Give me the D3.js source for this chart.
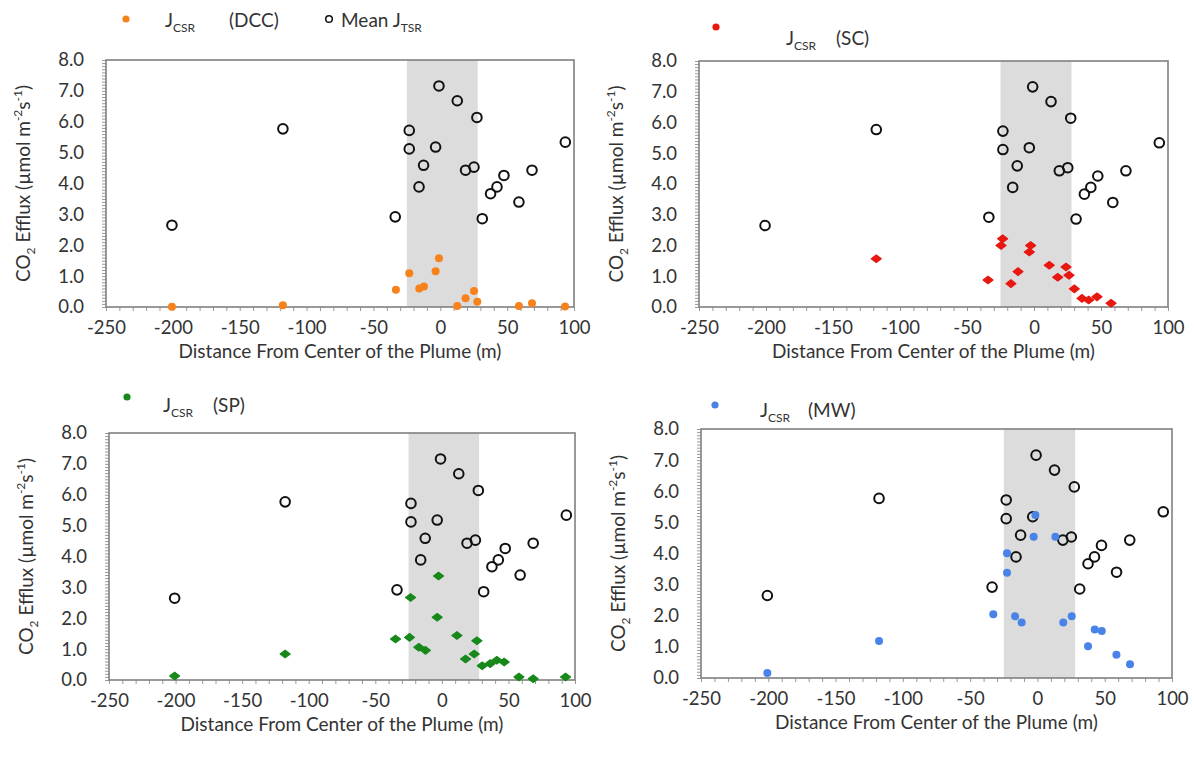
<!DOCTYPE html>
<html>
<head>
<meta charset="utf-8">
<script src="https://cdn.jsdelivr.net/npm/d3@7"></script>
<style>
  html, body { margin: 0; padding: 0; background: #fff; }
  svg { display: block; font-family: Lato, "Noto Sans", sans-serif; }
</style>
</head>
<body>
<svg id="chart" width="1194" height="762"></svg>
<script>
// Mean total soil respiration (J_TSR) at each station, shared by all four panels
const tsrDistance = [-200.7, -117.7, -33.7, -23.2, -23.2, -15.9, -12.5, -3.5, -1.0, 12.7,
                     18.9, 25.2, 27.4, 31.4, 37.6, 42.4, 47.6, 58.8, 68.6, 93.5];
const tsrFlux     = [2.65, 5.77, 2.92, 5.72, 5.12, 3.89, 4.59, 5.18, 7.16, 6.68,
                     4.43, 4.53, 6.14, 2.86, 3.67, 3.89, 4.26, 3.40, 4.43, 5.34];

// Carbon-source respiration (J_CSR) estimated by each method
const dccDistance = [-200.7, -117.7, -33.2, -23.2, -15.7, -12.2, -3.5, -1.0, 12.7, 18.9,
                     25.2, 27.7, 58.8, 68.6, 93.3];
const dccFlux     = [0.01, 0.06, 0.56, 1.09, 0.60, 0.66, 1.16, 1.58, 0.03, 0.28,
                     0.52, 0.17, 0.03, 0.12, 0.02];

const scDistance  = [-117.7, -34.3, -24.6, -23.4, -17.2, -11.9, -3.5, -2.5, 11.4, 17.7,
                     23.9, 26.1, 30.1, 35.8, 40.8, 47.0, 57.5];
const scFlux      = [1.57, 0.88, 2.00, 2.22, 0.76, 1.15, 1.79, 2.00, 1.36, 0.97,
                     1.30, 1.03, 0.59, 0.28, 0.23, 0.33, 0.12];

const spDistance  = [-200.7, -117.7, -34.8, -24.3, -23.5, -17.3, -12.3, -3.5, -2.5, 11.3,
                     17.8, 24.3, 26.3, 30.3, 36.3, 41.3, 46.8, 57.9, 68.6, 92.9];
const spFlux      = [0.13, 0.84, 1.33, 1.38, 2.67, 1.06, 0.96, 2.03, 3.37, 1.44,
                     0.68, 0.84, 1.27, 0.46, 0.53, 0.64, 0.58, 0.10, 0.04, 0.10];

const mwDistance  = [-200.7, -117.7, -32.8, -22.6, -22.6, -16.6, -11.7, -2.8, -1.5, 13.3,
                     19.2, 25.5, 37.6, 42.6, 47.8, 58.7, 68.8];
const mwFlux      = [0.16, 1.19, 2.05, 4.01, 3.38, 1.98, 1.78, 4.54, 5.24, 4.54,
                     1.78, 1.98, 1.02, 1.56, 1.51, 0.75, 0.44];

// Extent of the plume core (shaded band), in metres
const plumeBand = [-25, 28];

// Axis ticks
const xTickValues = [-250, -200, -150, -100, -50, 0, 50, 100];
const yTickValues = [0, 1, 2, 3, 4, 5, 6, 7, 8];

const xTitle = "Distance From Center of the Plume (m)";

const svg = d3.select("#chart");

function toPoints(xs, ys) { return xs.map((x, i) => ({ x, y: ys[i] })); }

const panels = [
  { box: { l: 106, r: 574, t: 60, b: 307 }, csr: toPoints(dccDistance, dccFlux), color: "#f7821b", shape: "dot" },
  { box: { l: 699, r: 1168, t: 61, b: 307 }, csr: toPoints(scDistance, scFlux), color: "#e8170f", shape: "diamond" },
  { box: { l: 109, r: 575, t: 433, b: 680 }, csr: toPoints(spDistance, spFlux), color: "#17891a", shape: "diamond" },
  { box: { l: 701, r: 1172, t: 429, b: 678 }, csr: toPoints(mwDistance, mwFlux), color: "#4a83e8", shape: "dot" }
];

const tsr = toPoints(tsrDistance, tsrFlux);
const textColor = "#333";
const frameColor = "#808080";
const mainSize = "19px";
const tickSize = "18.5px";
const subSize = "12px";

function drawPanel(p) {
  const x = d3.scaleLinear().domain([-250, 100]).range([p.box.l, p.box.r]);
  const y = d3.scaleLinear().domain([0, 8]).range([p.box.b, p.box.t]);
  const g = svg.append("g");

  // plume core band
  g.append("rect")
    .attr("x", x(plumeBand[0])).attr("y", y(8))
    .attr("width", x(plumeBand[1]) - x(plumeBand[0]))
    .attr("height", y(0) - y(8))
    .attr("fill", "#dcdcdc");

  // minor ticks
  const xMinor = g.append("g").attr("transform", `translate(0,${y(0)})`)
    .call(d3.axisBottom(x).tickValues(d3.range(-250, 101, 10)).tickSize(4).tickFormat(""));
  const yMinor = g.append("g").attr("transform", `translate(${x(-250)},0)`)
    .call(d3.axisLeft(y).tickValues(d3.range(0, 80.5, 1).map(v => v / 10)).tickSize(4).tickFormat(""));
  [xMinor, yMinor].forEach(a => {
    a.select(".domain").remove();
    a.selectAll("line").attr("stroke", "#9a9a9a").attr("stroke-width", 1);
  });

  // labelled axes
  const xAxis = g.append("g").attr("transform", `translate(0,${y(0)})`)
    .call(d3.axisBottom(x).tickValues(xTickValues).tickSize(0).tickPadding(14).tickFormat(d => String(d)));
  const yAxis = g.append("g").attr("transform", `translate(${x(-250)},0)`)
    .call(d3.axisLeft(y).tickValues(yTickValues).tickSize(0).tickPadding(22).tickFormat(d3.format(".1f")));
  [xAxis, yAxis].forEach(a => {
    a.select(".domain").remove();
    a.selectAll("text").attr("fill", textColor).style("font-size", tickSize)
      .style("font-family", "Lato, 'Noto Sans', sans-serif");
  });

  // plot frame
  g.append("rect")
    .attr("x", x(-250)).attr("y", y(8))
    .attr("width", x(100) - x(-250)).attr("height", y(0) - y(8))
    .attr("fill", "none").attr("stroke", frameColor).attr("stroke-width", 1.6);

  // mean total respiration, open circles
  g.append("g").selectAll("circle").data(tsr).join("circle")
    .attr("cx", d => x(d.x)).attr("cy", d => y(d.y)).attr("r", 4.8)
    .attr("fill", "none").attr("stroke", "#111").attr("stroke-width", 2);

  // carbon-source respiration
  const m = g.append("g");
  if (p.shape === "dot") {
    m.selectAll("circle").data(p.csr).join("circle")
      .attr("cx", d => x(d.x)).attr("cy", d => y(d.y)).attr("r", 4)
      .attr("fill", p.color);
  } else {
    m.selectAll("path").data(p.csr).join("path")
      .attr("d", d => {
        const cx = x(d.x), cy = y(d.y);
        return `M${cx - 5},${cy} L${cx},${cy - 3.8} L${cx + 5},${cy} L${cx},${cy + 3.8} Z`;
      })
      .attr("fill", p.color).attr("stroke", p.color).attr("stroke-width", 1.2)
      .attr("stroke-linejoin", "round");
  }

  // x title
  g.append("text")
    .attr("x", (x(-250) + x(100)) / 2).attr("y", y(0) + 51)
    .attr("text-anchor", "middle").attr("fill", textColor)
    .style("font-size", mainSize).text(xTitle);

  // y title: CO2 Efflux (µmol m-2 s-1)
  const cy = (y(0) + y(8)) / 2;
  const yt = g.append("text")
    .attr("transform", `translate(${x(-250) - 76},${cy}) rotate(-90)`)
    .attr("text-anchor", "middle").attr("fill", textColor).style("font-size", mainSize);
  yt.append("tspan").text("CO");
  yt.append("tspan").attr("dy", 5).style("font-size", subSize).text("2");
  yt.append("tspan").attr("dy", -5).text(" Efflux (µmol m");
  yt.append("tspan").attr("dy", -8).style("font-size", subSize).text("-2");
  yt.append("tspan").attr("dy", 8).text("s");
  yt.append("tspan").attr("dy", -8).style("font-size", subSize).text("-1");
  yt.append("tspan").attr("dy", 8).text(")");
}

panels.forEach(drawPanel);

// Legends
function jLabel(xPos, yPos, sub, tail, tailX) {
  const t = svg.append("text").attr("x", xPos).attr("y", yPos)
    .attr("fill", textColor).style("font-size", mainSize);
  t.append("tspan").text("J");
  t.append("tspan").attr("dy", 5).style("font-size", subSize).text(sub);
  svg.append("text").attr("x", tailX).attr("y", yPos)
    .attr("fill", textColor).style("font-size", mainSize).text(tail);
}

// top-left: DCC and mean TSR
svg.append("circle").attr("cx", 126).attr("cy", 19).attr("r", 3.6).attr("fill", panels[0].color);
jLabel(165, 27, "CSR", "(DCC)", 229);
svg.append("circle").attr("cx", 329).attr("cy", 19).attr("r", 3.3)
  .attr("fill", "none").attr("stroke", "#111").attr("stroke-width", 1.5);
const meanT = svg.append("text").attr("x", 341).attr("y", 27)
  .attr("fill", textColor).style("font-size", mainSize);
meanT.append("tspan").text("Mean J");
meanT.append("tspan").attr("dy", 5).style("font-size", subSize).text("TSR");

// top-right: SC
svg.append("circle").attr("cx", 716).attr("cy", 27).attr("r", 3.6).attr("fill", panels[1].color);
jLabel(786, 45, "CSR", "(SC)", 836);

// bottom-left: SP
svg.append("circle").attr("cx", 127).attr("cy", 397).attr("r", 3.6).attr("fill", panels[2].color);
jLabel(163, 412, "CSR", "(SP)", 213);

// bottom-right: MW
svg.append("circle").attr("cx", 715).attr("cy", 405).attr("r", 3.6).attr("fill", panels[3].color);
jLabel(760, 417, "CSR", "(MW)", 808);
</script>
</body>
</html>
